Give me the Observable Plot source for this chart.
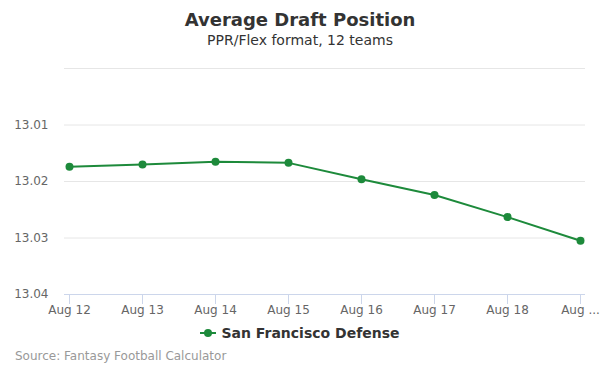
<!DOCTYPE html>
<html>
<head>
<meta charset="utf-8">
<script src="https://cdn.jsdelivr.net/npm/d3@7"></script>
<script src="https://cdn.jsdelivr.net/npm/@observablehq/plot@0.6"></script>
<style>
  html, body { margin: 0; padding: 0; background: #fff; }
  body { width: 600px; height: 375px; overflow: hidden; font-family: "DejaVu Sans", sans-serif; }
  #title { height: 60px; text-align: center; color: #333; }
  #title .t { font-size: 18px; font-weight: bold; padding-top: 9px; line-height: 22px; }
  #title .s { font-size: 14px; line-height: 19px; }
  #legend { height: 20px; display: flex; justify-content: center; align-items: center; font-size: 14px; font-weight: bold; color: #333; margin-top: -2px; }
  #legend svg { margin-right: 5px; }
  #source { position: absolute; left: 15px; top: 349px; font-size: 12px; color: #999; }
</style>
</head>
<body>
<div id="title"><div class="t">Average Draft Position</div><div class="s">PPR/Flex format, 12 teams</div></div>
<div id="chart"></div>
<div id="legend"><svg width="16" height="10"><line x1="0" x2="16" y1="5" y2="5" stroke="#1d8a3b" stroke-width="2"/><circle cx="8" cy="5" r="4" fill="#1d8a3b"/></svg><span>San Francisco Defense</span></div>
<div id="source">Source: Fantasy Football Calculator</div>
<script>
const dates = ["Aug 12", "Aug 13", "Aug 14", "Aug 15", "Aug 16", "Aug 17", "Aug 18", "Aug ..."];
const adp = [13.0174, 13.0170, 13.0165, 13.0167, 13.0196, 13.0224, 13.0263, 13.0305];
const yTicks = [13.00, 13.01, 13.02, 13.03, 13.04];
const yLabels = [13.01, 13.02, 13.03, 13.04];
const seriesName = "San Francisco Defense";
const color = "#1d8a3b";

const data = dates.map((d, i) => ({date: d, adp: adp[i], series: seriesName}));

const chart = Plot.plot({
  width: 600,
  height: 265,
  marginTop: 8,
  marginBottom: 31,
  marginLeft: 64,
  marginRight: 15,
  style: {fontFamily: "DejaVu Sans, sans-serif", fontSize: "12px", background: "#fff"},
  x: {type: "point", domain: dates, padding: 0, inset: 5},
  y: {domain: [13.00, 13.04], reverse: true},
  marks: [
    Plot.gridY(yTicks.slice(0, 4), {stroke: "#e6e6e6", strokeOpacity: 1}),
    Plot.ruleY([13.04], {stroke: "#ccd6eb", strokeWidth: 1}),
    Plot.axisY(yLabels, {tickSize: 0, tickPadding: 16, fill: "#666", tickFormat: d => d.toFixed(2), label: null}),
    Plot.axisX({tickSize: 10, tickPadding: 1, stroke: "#ccd6eb", strokeOpacity: 1, fill: "#666", label: null}),
    Plot.line(data, {x: "date", y: "adp", stroke: color, strokeWidth: 2}),
    Plot.dot(data, {x: "date", y: "adp", r: 4, fill: color})
  ]
});
document.getElementById("chart").append(chart);
</script>
</body>
</html>
